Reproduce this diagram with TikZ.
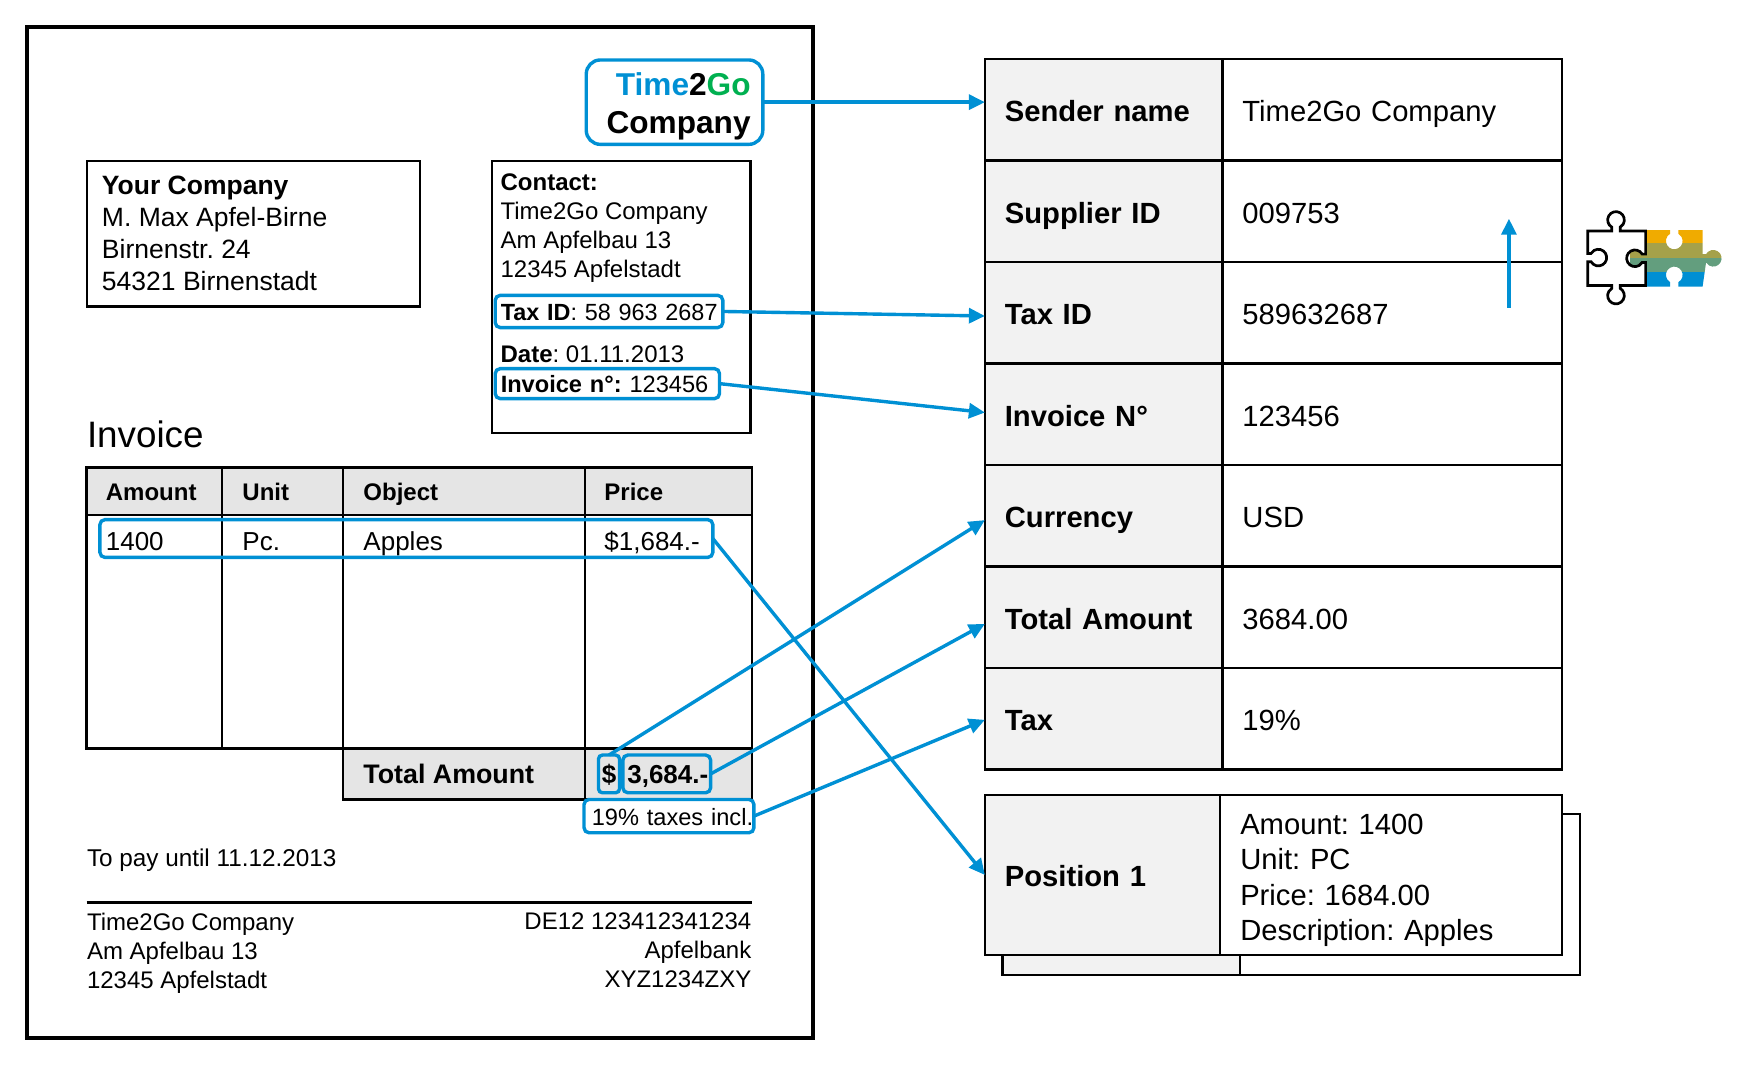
\documentclass[tikz,border=0pt]{standalone}
\usepackage{fontspec}
\setmainfont{Liberation Sans}
\usetikzlibrary{arrows.meta,calc}

\definecolor{tblue}{HTML}{0090D4}
\definecolor{tgreen}{HTML}{00B050}
\definecolor{porange}{HTML}{F0AB00}
\definecolor{polive}{HTML}{A5A14A}
\definecolor{pgreen}{HTML}{639E7E}
\definecolor{pblue}{HTML}{008FD3}
\def\u{0.5552pt}
\frenchspacing

\begin{document}
\begin{tikzpicture}
                [
                    x=\u,y=-\u,
                    hilite/.style 2 args={draw=tblue,line width=1.7pt,rounded corners=2.5pt,anchor=west,outer sep=0pt,inner xsep=5*\u,inner ysep=0pt,text width=(#1-10)*\u,minimum height=#2*\u,text height=10.6pt,text depth=2pt},
                    link/.style={-{Triangle[length=8pt,width=7.5pt,fill=tblue]},line width=1.7pt,draw=tblue},
                    keycell/.style={draw=black,line width=1.2pt,fill=black!5,anchor=north west,outer sep=0pt,inner ysep=0pt,inner xsep=18*\u,text width=(#1-36)*\u,align=left,text height=14pt,text depth=2pt,font=\fontsize{14.6}{17.7}\selectfont\bfseries},
                    valcell/.style={keycell=#1,fill=white,font=\fontsize{14.6}{17.7}\selectfont},
                    doc/.style={inner sep=0pt,anchor=west,align=left,font=\fontsize{12}{14.4}\selectfont},
                    oneline/.style={doc,text height=10.6pt,text depth=2pt},
                    head/.style={oneline,font=\fontsize{12}{14.4}\selectfont\bfseries},
                    item/.style={oneline,text height=11.3pt,font=\fontsize{13}{16}\selectfont},
                ]
                \useasboundingbox (0,0) rectangle (1568,963);
                % invoice page
                \draw[line width=2pt] (24,24) rectangle (732,935);
                \draw[line width=1.1pt] (78,145) rectangle (378,276);
                \node[doc,font=\fontsize{13.25}{16}\selectfont] (sender) at (91.5,210)
                    {\textbf{Your Company}\\M. Max Apfel-Birne\\Birnenstr. 24\\54321 Birnenstadt};
                \draw[line width=1.1pt] (443,145) rectangle (676,390);
                \node[doc,anchor=north west] (contact) at (450.5,156.5)
                    {\textbf{Contact:}\\Time2Go Company\\Am Apfelbau 13\\12345 Apfelstadt};
                \node[hilite={205}{29},font=\fontsize{11.7}{14.4}\selectfont] (taxbox) at (446,280.5) {\mbox{\textbf{Tax ID}: 58 963 2687}};
                \node[oneline] (date) at (450.5,319) {\textbf{Date}: 01.11.2013};
                \node[hilite={202}{27},font=\fontsize{11.8}{14.4}\selectfont] (invbox) at (446,345.5) {\mbox{\textbf{Invoice n°:} 123456}};
                \node[hilite={159}{76},rounded corners=7pt,inner xsep=11*\u,text width=137*\u,text height=,text depth=,align=right,font=\fontsize{15.8}{19.2}\selectfont\bfseries] (logo) at (528,92)
                    {\rule{0pt}{15.5pt}\textcolor{tblue}{Time}2\textcolor{tgreen}{Go}\\Company};
                \node[doc,text height=13.2pt,text depth=0pt,font=\fontsize{18.4}{20}\selectfont] (title) at (78,391) {Invoice};
                % items table
                \fill[black!10] (78,421) rectangle (677,464);
                \fill[black!10] (309,674) rectangle (677,720);
                \draw[line width=1.2pt] (78,421) rectangle (677,674);
                \draw[line width=1.2pt] (78,464) -- (677,464);
                \draw[line width=1.2pt] (309,674) rectangle (677,720);
                \foreach \xcol in {200,309,527}
                    \draw[line width=1.2pt] (\xcol,421) -- (\xcol,674);
                \draw[line width=1.2pt] (527,674) -- (527,720);
                \foreach \xcol/\word/\cell in {95/Amount/1400,218/Unit/Pc.,327/Object/Apples,544/Price/{\$1,684.-}}{
                    \node[head] (h\xcol) at (\xcol,443) {\word};
                    \node[item] (c\xcol) at (\xcol,487) {\cell};
                }
                \node[hilite={552}{34}] (linebox) at (90,485) {};
                \node[oneline,text height=11.5pt,font=\fontsize{13.4}{16}\selectfont\bfseries] (total) at (327,697) {Total Amount};
                \node[hilite={19}{34},rounded corners=2pt,inner xsep=0pt,text width=19*\u,text height=11.3pt,align=center,font=\fontsize{13}{16}\selectfont\bfseries] (cur) at (539,697) {\$};
                \node[hilite={79}{34},inner xsep=4*\u,text width=71*\u,text height=11.3pt,align=left,font=\fontsize{13}{16}\selectfont\bfseries] (amt) at (561,697) {\mbox{3,684.-}};
                \node[hilite={153}{30},inner xsep=5*\u,text width=143*\u,text height=11.6pt,font=\fontsize{11.8}{14}\selectfont] (taxes) at (526,735) {\hspace*{1.1pt}\mbox{19\% taxes incl.}};
                \node[oneline,text height=11.2pt,font=\fontsize{12.15}{14.4}\selectfont] (pay) at (78,772) {To pay until 11.12.2013};
                \draw[line width=1.6pt] (78,813) -- (677,813);
                \node[doc,anchor=north west] (addr) at (78,822) {Time2Go Company\\Am Apfelbau 13\\12345 Apfelstadt};
                \node[doc,anchor=north east,align=right] (bank) at (677,822) {DE12 123412341234\\Apfelbank\\XYZ1234ZXY};
                % extracted fields
                \foreach \rowname/\lab/\val [count=\i from 0] in {sname/Sender name/Time2Go Company,supid/Supplier ID/009753,taxid/Tax ID/589632687,invno/Invoice N°/123456,curr/Currency/USD,totamt/Total Amount/3684.00,taxrate/Tax/19\%}{
                    \node[keycell=214,minimum height=91.43*\u] (\rowname) at (887,53+91.43*\i) {\lab};
                    \node[valcell=306,minimum height=91.43*\u] (\rowname v) at (1101,53+91.43*\i) {\val};
                }
                \node[keycell=214,minimum height=145*\u] (backkey) at (903,733) {};
                \node[valcell=306,minimum height=145*\u] (backval) at (1117,733) {};
                \node[keycell=212,minimum height=144*\u] (pos) at (887,716) {Position 1};
                \node[valcell=308,minimum height=144*\u,text height=,text depth=] (posv) at (1099,716)
                    {\rule{0pt}{15.6pt}Amount: 1400\\Unit: PC\\Price: 1684.00\\Description: Apples};
                % connectors
                \draw[link] (logo.east) -- (logo.east -| sname.west);
                \draw[link] (taxbox.east) -- ([yshift=-3*\u]taxid.west);
                \draw[link] (invbox.east) -- ([yshift=1.5*\u]invno.west);
                \draw[link] (cur.north) -- ([yshift=-4*\u]curr.west);
                \draw[link] (amt.east) -- ([yshift=-6*\u]totamt.west);
                \draw[link] (taxes.east) -- ([yshift=-1*\u]taxrate.west);
                \draw[link] (linebox.east) -- (pos.west);
                \coordinate (upfrom) at (1359,277);
                \coordinate (upto) at (1359,197);
                \draw[link] (upfrom) -- (upto);
                % puzzle
                \begin{scope}[shift={(1456,232.6)},x=0.3*\u,y=0.3*\u]
                    \begin{scope}
                        \clip (87,85) -- (160.5,85) -- (160.5,73.65) arc[start angle=120,end angle=420,radius=25] -- (185.5,85) -- (258,85)
                            -- (258,12.5) -- (268.35,12.5) arc[start angle=150,end angle=-150,radius=25] -- (258,-85)
                            -- (185.5,-85) -- (185.5,-71.65) arc[start angle=-60,end angle=240,radius=25] -- (160.5,-85) -- (87,-85)
                            -- (87,-12.5) -- (76.65,-12.5) arc[start angle=-30,end angle=-330,radius=25] -- (87,12.5) -- cycle;
                        \fill[porange] (40,85) rectangle (320,45);
                        \fill[polive] (40,45) rectangle (320,0);
                        \fill[pgreen] (40,0) rectangle (320,-40);
                        \fill[pblue] (40,-40) rectangle (320,-85);
                    \end{scope}
                    \draw[line width=1.35pt,fill=white] (-87,82) -- (-14.5,82) -- (-14.5,93.35) arc[start angle=240,end angle=-60,radius=25] -- (10.5,82) -- (87,82)
                        -- (87,12.5) -- (76.65,12.5) arc[start angle=30,end angle=330,radius=25] -- (87,-12.5) -- (87,-82)
                        -- (10.5,-82) -- (10.5,-90.35) arc[start angle=60,end angle=-240,radius=25] -- (-14.5,-82) -- (-87,-82)
                        -- (-87,-10.5) -- (-76.65,-10.5) arc[start angle=210,end angle=510,radius=25] -- (-87,14.5) -- cycle;
                \end{scope}
            \end{tikzpicture}
\end{document}
